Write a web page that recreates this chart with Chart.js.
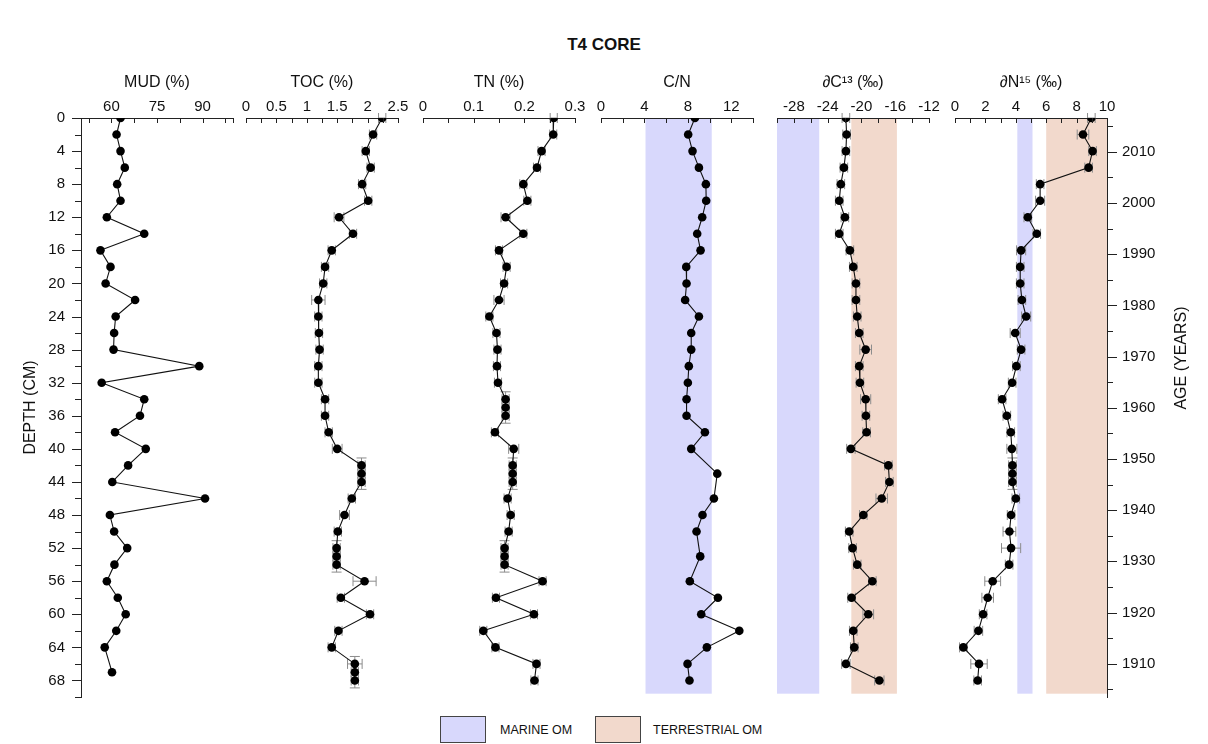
<!DOCTYPE html>
<html>
<head>
<meta charset="utf-8">
<title>T4 CORE</title>
<script src="https://cdn.jsdelivr.net/npm/chart.js@4.4.1/dist/chart.umd.min.js"></script>
<style>
  html, body { margin: 0; padding: 0; background: #fff; }
  #page { position: relative; width: 1208px; height: 744px; overflow: hidden;
          font-family: "Liberation Sans", Arial, sans-serif; color: #111; }
  #page canvas { position: absolute; top: 0; }
  #mainTitle { position: absolute; left: 0; top: 35px; width: 1208px; text-align: center;
               font-size: 17px; font-weight: bold; line-height: 20px; }
  .swatch { position: absolute; top: 716px; height: 27px; box-sizing: border-box; border: 1px solid #444; }
  .legendText { position: absolute; top: 722px; font-size: 12.5px; line-height: 16px; }
</style>
</head>
<body>
<div id="page">
  <div id="mainTitle">T4 CORE</div>
  <div class="swatch" id="swMarine" style="left:440px;width:46px;"></div>
  <div class="legendText" style="left:500px;">MARINE OM</div>
  <div class="swatch" id="swTerr" style="left:595px;width:46px;"></div>
  <div class="legendText" style="left:653px;">TERRESTRIAL OM</div>
</div>
<script>
// ---------------- core samples ----------------
const mudDepth = [0,2,4,6,8,10,12,14,16,18,20,22,24,26,28,30,32,34,36,38,40,42,44,46,48,50,52,54,56,58,60,62,64,67];
const mudValue = [63.0,61.7,63.0,64.4,61.9,63.0,58.5,70.8,56.4,59.7,58.1,67.8,61.4,60.9,60.7,88.9,56.8,
                  70.8,69.4,61.2,71.3,65.5,60.3,90.8,59.5,60.9,65.2,61.0,58.5,62.1,64.7,61.6,57.8,60.2];

const tocDepth = [0,2,4,6,8,10,12,14,16,18,20,22,24,26,28,30,32,34,36,38,40,
                  42,43,44,46,48,50,52,53,54,56,58,60,62,64,66,67,68];
const tocValue = [2.24,2.09,1.97,2.05,1.91,2.01,1.53,1.76,1.41,1.30,1.27,1.19,1.19,1.20,1.21,1.19,1.19,1.30,1.30,1.36,1.50,
                  1.90,1.90,1.90,1.74,1.62,1.51,1.49,1.49,1.49,1.95,1.56,2.04,1.52,1.41,1.79,1.79,1.79];
const tocError = [0.06,0.06,0.06,0.06,0.06,0.06,0.08,0.06,0.06,0.06,0.06,0.11,0.06,0.06,0.06,0.06,0.06,0.06,0.06,0.06,0.08,
                  0.06,0.06,0.06,0.06,0.08,0.06,0.06,0.06,0.06,0.19,0.06,0.06,0.06,0.06,0.12,0.06,0.06];
const tocDepthError = [0,0,0,0,0,0,0,0,0,0,0,0,0,0,0,0,0,0,0,0,0,
                       0,1.9,0,0,0,0,0,1.9,0,0,0,0,0,0,0,1.9,0];

const tnDepth = [0,2,4,6,8,10,12,14,16,18,20,22,24,26,28,30,32,
                 34,35,36,38,40,42,43,44,46,48,50,52,53,54,56,58,60,62,64,66,68];
const tnValue = [0.258,0.257,0.234,0.225,0.198,0.206,0.163,0.198,0.150,0.165,0.160,0.150,0.131,0.145,0.147,0.146,0.148,
                 0.163,0.163,0.163,0.142,0.179,0.177,0.177,0.177,0.167,0.173,0.169,0.161,0.161,0.161,0.236,0.144,0.219,0.119,0.143,0.224,0.220];
const tnError = [0.007,0.007,0.007,0.007,0.007,0.007,0.009,0.007,0.007,0.007,0.007,0.010,0.007,0.007,0.007,0.007,0.007,
                 0.007,0.007,0.007,0.007,0.010,0.007,0.007,0.007,0.007,0.007,0.007,0.007,0.007,0.007,0.007,0.007,0.007,0.007,0.007,0.007,0.007];
const tnDepthError = [0,0,0,0,0,0,0,0,0,0,0,0,0,0,0,0,0,
                      0,1.9,0,0,0,0,1.9,0,0,0,0,0,1.9,0,0,0,0,0,0,0,0];

const cnDepth = [0,2,4,6,8,10,12,14,16,18,20,22,24,26,28,30,32,34,36,38,40,43,46,48,50,53,56,58,60,62,64,66,68];
const cnValue = [8.65,8.03,8.43,9.02,9.66,9.69,9.32,8.86,9.17,7.85,7.88,7.75,9.02,8.31,8.31,8.09,8.00,7.88,7.88,9.57,8.31,
                 10.71,10.40,9.35,8.80,9.14,8.18,10.77,9.23,12.74,9.75,7.97,8.15];

const c13Depth = [0,2,4,6,8,10,12,14,16,18,20,22,24,26,28,30,32,34,36,38,40,42,44,46,48,50,52,54,56,58,60,62,64,66,68];
const c13Value = [-21.84,-21.76,-21.84,-22.08,-22.44,-22.63,-21.96,-22.63,-21.37,-20.97,-20.65,-20.65,-20.50,-20.26,-19.50,-20.26,-20.18,
                  -19.50,-19.47,-19.39,-21.25,-16.81,-16.69,-17.60,-19.78,-21.45,-21.05,-20.50,-18.71,-21.17,-19.19,-20.97,-20.85,-21.84,-17.88];
const c13Error = [0.45,0.45,0.45,0.45,0.45,0.45,0.45,0.45,0.45,0.45,0.45,0.45,0.45,0.45,0.69,0.45,0.45,
                  0.60,0.45,0.45,0.50,0.45,0.45,0.68,0.45,0.45,0.45,0.45,0.45,0.45,0.63,0.45,0.45,0.50,0.55];

const n15Depth = [0,2,4,6,8,10,12,14,16,18,20,22,24,26,28,30,32,34,36,38,40,42,43,44,46,48,50,52,54,56,58,60,62,64,66,68];
const n15Value = [8.97,8.42,9.05,8.79,5.60,5.60,4.79,5.38,4.35,4.29,4.29,4.40,4.68,3.96,4.35,4.04,3.76,3.10,3.41,3.67,3.74,
                  3.78,3.78,3.78,4.00,3.69,3.58,3.69,3.56,2.48,2.15,1.85,1.54,0.55,1.58,1.49];
const n15Error = [0.25,0.38,0.25,0.25,0.25,0.30,0.25,0.25,0.30,0.25,0.25,0.25,0.30,0.33,0.25,0.25,0.25,0.25,0.25,0.25,0.33,
                  0.25,0.25,0.25,0.25,0.25,0.42,0.63,0.25,0.52,0.38,0.25,0.28,0.25,0.54,0.25];
const n15DepthError = [0,0,0,0,0,0,0,0,0,0,0,0,0,0,0,0,0,0,0,0,0,
                       0,1.9,0,0,0,0,0,0,0,0,0,0,0,0,0];

// source ranges of organic matter
const cnMarine = [4.1, 10.2];
const c13Marine = [-30, -25];
const c13Terrestrial = [-21.2, -15.8];
const n15Marine = [4.1, 5.1];
const n15Terrestrial = [6, 10];
const bandDepth = [0, 69.6];

// axis ticks and labelled values
const depthTicks = [0,2,4,6,8,10,12,14,16,18,20,22,24,26,28,30,32,34,36,38,40,42,44,46,48,50,52,54,56,58,60,62,64,66,68,70];
const depthLabels = [0,4,8,12,16,20,24,28,32,36,40,44,48,52,56,60,64,68];
const ageTicks = [1905,1910,1915,1920,1925,1930,1935,1940,1945,1950,1955,1960,1965,1970,1975,1980,1985,1990,1995,2000,2005,2010,2015];
const ageLabels = [1910,1920,1930,1940,1950,1960,1970,1980,1990,2000,2010];
const mudTicks = [50,52.5,60,67.5,75,82.5,90,97.5,100];
const mudLabels = [60,75,90];
const tocTicks = [0,0.25,0.5,0.75,1,1.25,1.5,1.75,2,2.25,2.5];
const tocLabels = [0,0.5,1,1.5,2,2.5];
const tnTicks = [0,0.05,0.1,0.15,0.2,0.25,0.3];
const tnLabels = [0,0.1,0.2,0.3];
const cnTicks = [0,2,4,6,8,10,12,14];
const cnLabels = [0,4,8,12];
const c13Ticks = [-30,-28,-26,-24,-22,-20,-18,-16,-14,-12];
const c13Labels = [-28,-24,-20,-16,-12];
const n15Ticks = [0,1,2,3,4,5,6,7,8,9,10];
const n15Labels = [0,2,4,6,8,10];

// ---------------- drawing ----------------
const FONT = '"Liberation Sans", Arial, sans-serif';
const TEXT = '#111';
const AXIS = '#222';
const ERR = '#8c8c8c';
const MARINE = 'rgb(216,216,252)';
const TERRESTRIAL = 'rgb(242,217,204)';
const PAGE_W = 1208, PAGE_H = 744, PLOT_TOP = 118, PLOT_BOTTOM = 697, SIDE = 25;

Chart.defaults.font.family = FONT;
Chart.defaults.color = TEXT;
document.getElementById('swMarine').style.background = MARINE;
document.getElementById('swTerr').style.background = TERRESTRIAL;

const has = (list, v) => list.some(l => Math.abs(l - v) < 1e-9);
const pairs = (xs, ds) => xs.map((x, i) => ({x: x, y: ds[i]}));

// tick marks: inward on the top axes, outward on the depth and age axes
function tickMarks(specs) {
  return {
    id: 'tickMarks',
    afterDraw(chart) {
      const ctx = chart.ctx;
      ctx.save();
      ctx.strokeStyle = AXIS;
      ctx.lineWidth = 1;
      specs.forEach(sp => {
        const s = chart.scales[sp.scale];
        s.ticks.forEach(t => {
          const len = sp.isMajor(t.value) ? sp.major : sp.minor;
          const p = Math.round(s.getPixelForValue(t.value)) + 0.5;
          ctx.beginPath();
          if (sp.side === 'down') { ctx.moveTo(p, s.bottom); ctx.lineTo(p, s.bottom + len); }
          else if (sp.side === 'left') { ctx.moveTo(s.right, p); ctx.lineTo(s.right - len, p); }
          else { ctx.moveTo(s.left, p); ctx.lineTo(s.left + len, p); }
          ctx.stroke();
        });
      });
      ctx.restore();
    }
  };
}

function bands(list) {
  return {
    id: 'bands',
    beforeDraw(chart) {
      const xs = chart.scales.x, ys = chart.scales.y, ctx = chart.ctx;
      const y1 = ys.getPixelForValue(bandDepth[0]), y2 = ys.getPixelForValue(bandDepth[1]);
      ctx.save();
      list.forEach(b => {
        const x1 = xs.getPixelForValue(b.range[0]), x2 = xs.getPixelForValue(b.range[1]);
        ctx.fillStyle = b.color;
        ctx.fillRect(x1, y1, x2 - x1, y2 - y1);
      });
      ctx.restore();
    }
  };
}

function errorBars(xErr, dErr) {
  return {
    id: 'errorBars',
    beforeDatasetsDraw(chart) {
      const xs = chart.scales.x, ys = chart.scales.y, ctx = chart.ctx;
      const pts = chart.data.datasets[0].data;
      const seg = (a, b, c, d) => { ctx.beginPath(); ctx.moveTo(a, b); ctx.lineTo(c, d); ctx.stroke(); };
      ctx.save();
      ctx.strokeStyle = ERR;
      ctx.lineWidth = 1;
      pts.forEach((p, i) => {
        const x = xs.getPixelForValue(p.x), y = ys.getPixelForValue(p.y);
        if (xErr && xErr[i]) {
          const x1 = xs.getPixelForValue(p.x - xErr[i]), x2 = xs.getPixelForValue(p.x + xErr[i]);
          seg(x1, y, x2, y);
          seg(x1, y - 5, x1, y + 5);
          seg(x2, y - 5, x2, y + 5);
        }
        if (dErr && dErr[i]) {
          const y1 = ys.getPixelForValue(p.y - dErr[i]), y2 = ys.getPixelForValue(p.y + dErr[i]);
          seg(x, y1, x, y2);
          seg(x - 5, y1, x + 5, y1);
          seg(x - 5, y2, x + 5, y2);
        }
      });
      ctx.restore();
    }
  };
}

const ageTitle = {
  id: 'ageTitle',
  afterDraw(chart) {
    const ctx = chart.ctx;
    const s = chart.scales.age;
    ctx.save();
    ctx.translate(s.left + 75, 358);
    ctx.rotate(-Math.PI / 2);
    ctx.font = '16px ' + FONT;
    ctx.fillStyle = TEXT;
    ctx.textAlign = 'center';
    ctx.textBaseline = 'middle';
    ctx.fillText('AGE (YEARS)', 0, 0);
    ctx.restore();
  }
};

const page = document.getElementById('page');

function makePanel(p) {
  const canvasLeft = p.depthAxis ? 0 : p.plotLeft - SIDE;
  const canvasRight = p.ageAxis ? PAGE_W : p.plotRight + SIDE;
  const width = canvasRight - canvasLeft;
  const canvas = document.createElement('canvas');
  canvas.width = width;
  canvas.height = PAGE_H;
  canvas.style.left = canvasLeft + 'px';
  canvas.style.width = width + 'px';
  canvas.style.height = PAGE_H + 'px';
  page.appendChild(canvas);

  const scales = {
    x: {
      type: 'linear', position: 'top', min: p.min, max: p.max,
      afterBuildTicks: s => { s.ticks = p.ticks.map(v => ({value: v})); },
      afterFit: s => { s.height = PLOT_TOP; },
      ticks: { autoSkip: false, maxRotation: 0, minRotation: 0, padding: 2, color: TEXT,
               font: {size: 15}, callback: v => has(p.labels, v) ? String(v) : '' },
      grid: { display: true, drawOnChartArea: false, drawTicks: false },
      border: { display: true, color: AXIS, width: 1 },
      title: { display: true, text: p.title, color: TEXT, font: {size: 16}, padding: {top: 73, bottom: 0} }
    },
    y: {
      type: 'linear', position: 'left', reverse: true, min: 0, max: 70, display: !!p.depthAxis,
      afterBuildTicks: s => { s.ticks = depthTicks.map(v => ({value: v})); },
      afterFit: s => { if (p.depthAxis) s.width = p.plotLeft; },
      ticks: { autoSkip: false, padding: 16, color: TEXT, font: {size: 15},
               callback: v => has(depthLabels, v) ? String(v) : '' },
      grid: { display: true, drawOnChartArea: false, drawTicks: false },
      border: { display: true, color: AXIS, width: 1 },
      title: { display: true, text: 'DEPTH (CM)', color: TEXT, font: {size: 16}, padding: {top: 21, bottom: 0} }
    }
  };
  const marks = [{scale: 'x', side: 'down', major: 5, minor: 5, isMajor: () => true}];
  const plugins = [];
  if (p.depthAxis) {
    marks.push({scale: 'y', side: 'left', major: 9, minor: 6, isMajor: v => has(depthLabels, v)});
  }
  if (p.ageAxis) {
    scales.age = {
      type: 'linear', axis: 'y', position: 'right', min: 1903.5, max: 2016.6,
      afterBuildTicks: s => { s.ticks = ageTicks.map(v => ({value: v})); },
      afterFit: s => { s.width = PAGE_W - p.plotRight; },
      ticks: { autoSkip: false, padding: 15, color: TEXT, font: {size: 15},
               callback: v => has(ageLabels, v) ? String(v) : '' },
      grid: { display: true, drawOnChartArea: false, drawTicks: false },
      border: { display: true, color: AXIS, width: 1 }
    };
    marks.push({scale: 'age', side: 'right', major: 10, minor: 6, isMajor: v => has(ageLabels, v)});
    plugins.push(ageTitle);
  }
  if (p.bands) plugins.push(bands(p.bands));
  if (p.err || p.depthErr) plugins.push(errorBars(p.err, p.depthErr));
  plugins.push(tickMarks(marks));

  return new Chart(canvas, {
    type: 'scatter',
    data: {
      datasets: [{
        data: pairs(p.values, p.depths),
        showLine: true,
        borderColor: '#111',
        borderWidth: 1.1,
        pointRadius: 4.3,
        pointHoverRadius: 4.3,
        pointBackgroundColor: '#000',
        pointBorderColor: '#000',
        pointBorderWidth: 0
      }]
    },
    options: {
      responsive: false,
      animation: false,
      devicePixelRatio: 1,
      events: [],
      layout: { padding: { top: 0, bottom: PAGE_H - PLOT_BOTTOM,
                           left: p.depthAxis ? 0 : SIDE, right: p.ageAxis ? 0 : SIDE } },
      plugins: { legend: { display: false }, tooltip: { enabled: false } },
      scales: scales
    },
    plugins: plugins
  });
}

makePanel({title: 'MUD (%)', plotLeft: 81, plotRight: 233, min: 50, max: 100,
           ticks: mudTicks, labels: mudLabels, values: mudValue, depths: mudDepth, depthAxis: true});
makePanel({title: 'TOC (%)', plotLeft: 246, plotRight: 398, min: 0, max: 2.5,
           ticks: tocTicks, labels: tocLabels, values: tocValue, depths: tocDepth,
           err: tocError, depthErr: tocDepthError});
makePanel({title: 'TN (%)', plotLeft: 423, plotRight: 575, min: 0, max: 0.3,
           ticks: tnTicks, labels: tnLabels, values: tnValue, depths: tnDepth,
           err: tnError, depthErr: tnDepthError});
makePanel({title: 'C/N', plotLeft: 601, plotRight: 753, min: 0, max: 14,
           ticks: cnTicks, labels: cnLabels, values: cnValue, depths: cnDepth,
           bands: [{range: cnMarine, color: MARINE}]});
makePanel({title: '\u2202C\u00B9\u00B3 (\u2030)', plotLeft: 777, plotRight: 929, min: -30, max: -12,
           ticks: c13Ticks, labels: c13Labels, values: c13Value, depths: c13Depth, err: c13Error,
           bands: [{range: c13Marine, color: MARINE}, {range: c13Terrestrial, color: TERRESTRIAL}]});
makePanel({title: '\u2202N\u00B9\u2075 (\u2030)', plotLeft: 955, plotRight: 1107, min: 0, max: 10,
           ticks: n15Ticks, labels: n15Labels, values: n15Value, depths: n15Depth,
           err: n15Error, depthErr: n15DepthError, ageAxis: true,
           bands: [{range: n15Marine, color: MARINE}, {range: n15Terrestrial, color: TERRESTRIAL}]});
</script>
</body>
</html>
